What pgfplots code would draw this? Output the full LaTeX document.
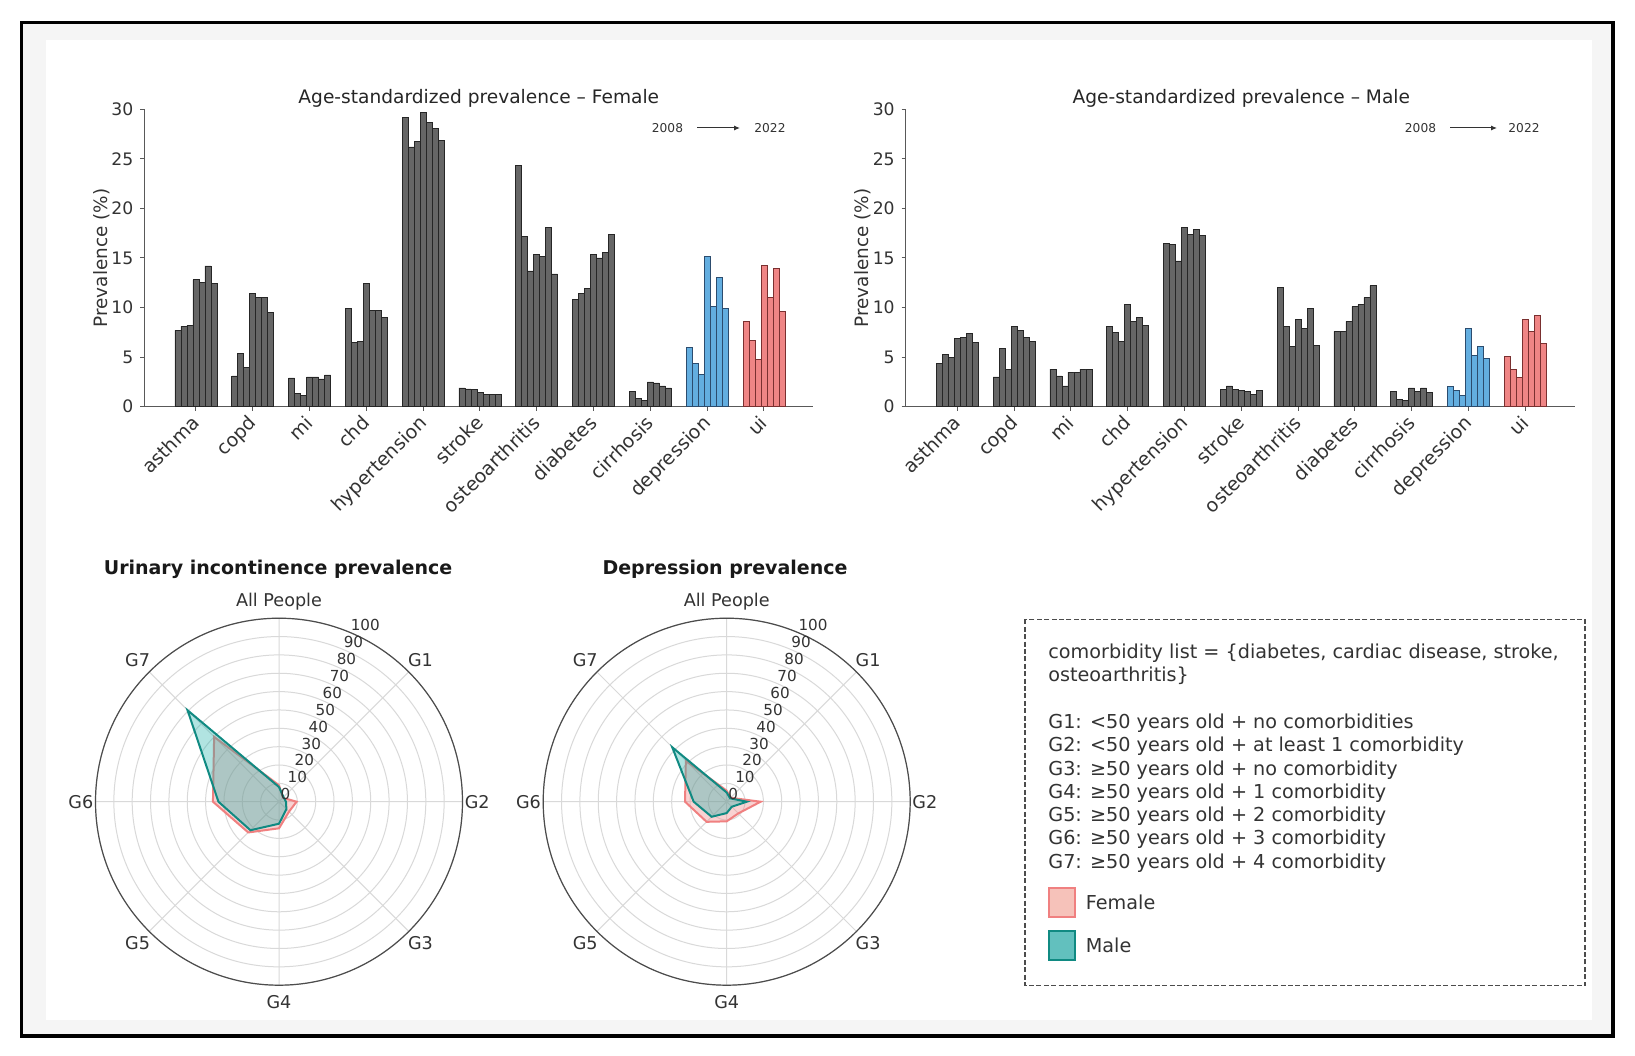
\documentclass[border=0pt]{standalone}
\usepackage{pgfplots}
\pgfplotsset{compat=1.18}
\usepgfplotslibrary{polar}
\usepackage{pgfplotstable}
\usepackage{fontspec}
\setmainfont{DejaVu Sans}
\usetikzlibrary{arrows.meta}

\definecolor{barg}{HTML}{666666}
\definecolor{bluef}{HTML}{63AEE0}
\definecolor{blued}{HTML}{2C4C6E}
\definecolor{redf}{HTML}{EF8585}
\definecolor{redd}{HTML}{7A3030}
\definecolor{txt}{HTML}{333333}
\definecolor{fem}{HTML}{F08080}
\definecolor{femfill}{HTML}{F6C2BA}
\definecolor{mal}{HTML}{108A82}
\definecolor{malf}{HTML}{20B2AA}
\definecolor{malfill}{HTML}{62C0BE}

% ---------- bar data: rows = categories, columns = years 2008 -> 2022
\pgfplotstableread{
y0 y1 y2 y3 y4 y5 y6
7.7 8.1 8.2 12.8 12.5 14.2 12.4
3.1 5.4 4.0 11.4 11.0 11.0 9.5
2.9 1.3 1.1 3.0 3.0 2.8 3.2
9.9 6.5 6.6 12.4 9.7 9.7 9.0
29.2 26.2 26.8 29.7 28.7 28.1 26.9
1.9 1.8 1.7 1.4 1.2 1.2 1.2
24.3 17.2 13.7 15.4 15.2 18.1 13.4
10.8 11.4 11.9 15.4 15.0 15.6 17.4
1.5 0.8 0.6 2.5 2.4 2.1 1.9
}\femgray
\pgfplotstableread{
y0 y1 y2 y3 y4 y5 y6
6.0 4.4 3.3 15.2 10.1 13.0 9.9
}\femdep
\pgfplotstableread{
y0 y1 y2 y3 y4 y5 y6
8.6 6.7 4.8 14.3 11.0 14.0 9.6
}\femui
\pgfplotstableread{
y0 y1 y2 y3 y4 y5 y6
4.4 5.3 5.0 6.9 7.0 7.4 6.5
3.0 5.9 3.8 8.1 7.7 7.0 6.6
3.8 3.1 2.1 3.5 3.5 3.8 3.8
8.1 7.5 6.6 10.3 8.6 9.0 8.2
16.5 16.4 14.7 18.1 17.4 17.9 17.3
1.7 2.1 1.7 1.6 1.5 1.2 1.6
12.0 8.1 6.1 8.8 7.9 9.9 6.2
7.6 7.6 8.6 10.1 10.3 11.0 12.2
1.5 0.7 0.6 1.9 1.5 1.9 1.4
}\malgray
\pgfplotstableread{
y0 y1 y2 y3 y4 y5 y6
2.1 1.6 1.1 7.9 5.2 6.1 4.9
}\maldep
\pgfplotstableread{
y0 y1 y2 y3 y4 y5 y6
5.1 3.8 3.0 8.8 7.6 9.2 6.4
}\malui

% ---------- radar data: All People, G1..G7 (first repeated to close)
\pgfplotstableread{
g f m
AllPeople 9 8
G1 3 3.5
G2 9.6 3.8
G3 7.7 5.7
G4 14.5 12
G5 23.7 22
G6 36 33
G7 50 70.5
AllPeople 9 8
}\uitab
\pgfplotstableread{
g f m
AllPeople 6 5
G1 3 2.6
G2 18.5 11
G3 9 3.9
G4 10.7 6.2
G5 15.5 11.6
G6 22.7 18
G7 31.5 42
AllPeople 6 5
}\deptab

\newcommand{\fs}[1]{\fontsize{#1}{1.2\dimexpr #1pt\relax}\selectfont}

\pgfplotsset{
  barax/.style={
    scale only axis, width=334.5pt, height=148.7pt,
    xmin=-0.91, xmax=10.87, ymin=0, ymax=30,
    axis x line*=bottom, axis y line*=left,
    axis line style={black!65, line width=0.5pt},
    xtick={0,...,10},
    xticklabels={asthma,copd,mi,chd,hypertension,stroke,osteoarthritis,diabetes,cirrhosis,depression,ui},
    xticklabel style={xshift=-2.8pt, rotate=45, anchor=north east, font=\fs{9.5}, text=txt, inner sep=1pt},
    ytick={0,5,...,30},
    yticklabel style={font=\fs{8.6}, text=txt},
    /pgf/number format/assume math mode=true,
    tick align=outside, major tick length=2pt,
    tick style={black!65, line width=0.5pt},
    ylabel={Prevalence (\%)},
    ylabel style={font=\fs{9.2}, text=txt},
    ylabel shift=-6pt,
    clip=false,
  },
  barpl/.style={ybar, bar width=0.1056, bar shift=0pt, line width=0.35pt},
  radax/.style={
    scale only axis, width=183.5pt, height=183.5pt,
    xmin=0, xmax=360, ymin=0, ymax=100,
    xtick={0,45,...,315}, xticklabels={},
    ytick={10,20,...,100}, yticklabels={},
    grid=major, major grid style={black!15, line width=0.5pt},
    separate axis lines,
    x axis line style={black!70, line width=0.6pt},
    y axis line style={draw=none},
    major tick length=0pt,
    clip=false,
  },
}

\newcommand{\radlabels}{%
  \pgfplotsinvokeforeach{0,10,...,100}{%
    \node[anchor=south west, inner sep=0.6pt, font=\fs{7.6}, text=txt] at (axis cs:67.5,##1) {##1};}%
  \node[font=\fs{8.8}, text=txt] at (axis cs:90,109) {All People};
  \node[font=\fs{8.8}, text=txt] at (axis cs:45,109) {G1};
  \node[font=\fs{8.8}, text=txt] at (axis cs:0,108) {G2};
  \node[font=\fs{8.8}, text=txt] at (axis cs:-45,109) {G3};
  \node[font=\fs{8.8}, text=txt] at (axis cs:-90,109) {G4};
  \node[font=\fs{8.8}, text=txt] at (axis cs:-135,109) {G5};
  \node[font=\fs{8.8}, text=txt] at (axis cs:180,108) {G6};
  \node[font=\fs{8.8}, text=txt] at (axis cs:135,109) {G7};
}

\begin{document}
\begin{tikzpicture}[x=0.5pt, y=0.5pt]
\path[use as bounding box] (0,0) rectangle (1635,1056);
\fill[white] (0,0) rectangle (1635,1056);
\fill[black!4] (21.5,1033.5) rectangle (1613,20);
\fill[white] (46,1016) rectangle (1592,36);
\draw[line width=1.6pt] (21.5,1033.5) rectangle (1613,20);

% ---------------- Female bars
\begin{axis}[barax, at={(72.15pt,324.65pt)}, anchor=south west]
\pgfplotsinvokeforeach{0,...,6}{
  \addplot[barpl, fill=barg, draw=black!85] table[x expr=\coordindex+(#1-3)*0.1056, y=y#1]{\femgray};
  \addplot[barpl, fill=bluef, draw=blued] table[x expr=9+(#1-3)*0.1056, y=y#1]{\femdep};
  \addplot[barpl, fill=redf, draw=redd] table[x expr=10+(#1-3)*0.1056, y=y#1]{\femui};
}
\end{axis}
\node[anchor=base, font=\fs{9.3}, text=black!85] at (478.8,952) {Age-standardized prevalence – Female};
\node[font=\fs{6.1}, text=txt] at (667.5,928) {2008};
\draw[black!80, line width=0.5pt, -{Latex[length=3pt,width=2.5pt]}] (697,928) -- (740,928);
\node[font=\fs{6.1}, text=txt] at (770,928) {2022};

% ---------------- Male bars
\begin{axis}[barax, at={(452.85pt,324.65pt)}, anchor=south west]
\pgfplotsinvokeforeach{0,...,6}{
  \addplot[barpl, fill=barg, draw=black!85] table[x expr=\coordindex+(#1-3)*0.1056, y=y#1]{\malgray};
  \addplot[barpl, fill=bluef, draw=blued] table[x expr=9+(#1-3)*0.1056, y=y#1]{\maldep};
  \addplot[barpl, fill=redf, draw=redd] table[x expr=10+(#1-3)*0.1056, y=y#1]{\malui};
}
\end{axis}
\node[anchor=base, font=\fs{9.3}, text=black!85] at (1241.3,952) {Age-standardized prevalence – Male};
\node[font=\fs{6.1}, text=txt] at (1420.5,928) {2008};
\draw[black!80, line width=0.5pt, -{Latex[length=3pt,width=2.5pt]}] (1450,928) -- (1497,928);
\node[font=\fs{6.1}, text=txt] at (1524,928) {2022};

% ---------------- Radar: urinary incontinence
\node[anchor=base, font=\bfseries\fs{9.5}, text=black!90] at (278,481) {Urinary incontinence prevalence};
\begin{polaraxis}[radax, at={(139.5pt,127.15pt)}, anchor=center]
\addplot[draw=fem, fill=fem, fill opacity=0.35, line width=1pt] table[x expr=90-45*\coordindex, y=f]{\uitab};
\addplot[draw=mal, fill=malf, fill opacity=0.35, line width=1pt] table[x expr=90-45*\coordindex, y=m]{\uitab};
\radlabels
\end{polaraxis}

% ---------------- Radar: depression
\node[anchor=base, font=\bfseries\fs{9.5}, text=black!90] at (725,481) {Depression prevalence};
\begin{polaraxis}[radax, at={(363.35pt,127.15pt)}, anchor=center]
\addplot[draw=fem, fill=fem, fill opacity=0.35, line width=1pt] table[x expr=90-45*\coordindex, y=f]{\deptab};
\addplot[draw=mal, fill=malf, fill opacity=0.35, line width=1pt] table[x expr=90-45*\coordindex, y=m]{\deptab};
\radlabels
\end{polaraxis}

% ---------------- Legend box
\draw[black!70, line width=0.8pt, dash pattern=on 2.5pt off 1.2pt] (1025,436.5) rectangle (1585,70.5);
\begin{scope}[every node/.style={anchor=base west, inner sep=0pt, font=\fs{9.6}, text=txt}]
\node at (1048,397.3) {comorbidity list = \{diabetes, cardiac disease, stroke,};
\node at (1048,374.4) {osteoarthritis\}};
\node at (1048,327.5) {G1: <50 years old + no comorbidities};
\node at (1048,304.5) {G2: <50 years old + at least 1 comorbidity};
\node at (1048,280.5) {G3: ≥50 years old + no comorbidity};
\node at (1048,257.6) {G4: ≥50 years old + 1 comorbidity};
\node at (1048,234.6) {G5: ≥50 years old + 2 comorbidity};
\node at (1048,211.7) {G6: ≥50 years old + 3 comorbidity};
\node at (1048,187.7) {G7: ≥50 years old + 4 comorbidity};
\node at (1085.5,146) {Female};
\node at (1085.5,103.3) {Male};
\end{scope}
\draw[fem, fill=femfill, line width=1.2pt] (1049,168) rectangle (1075,139);
\draw[mal, fill=malfill, line width=1.2pt] (1049,125) rectangle (1075,96);
\end{tikzpicture}
\end{document}
